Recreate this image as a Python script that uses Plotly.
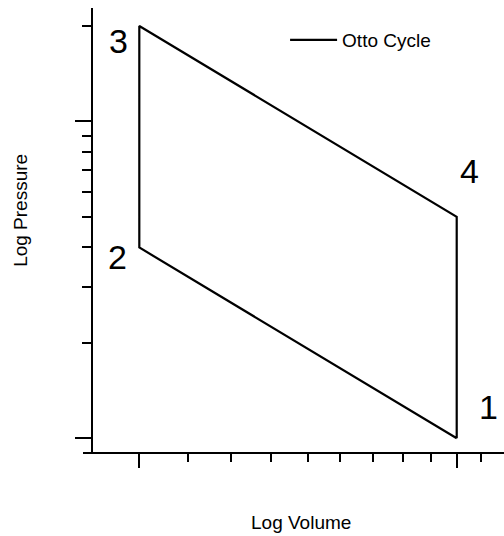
import numpy as np
import plotly.graph_objects as go

# Otto cycle state points (closed loop 1 -> 2 -> 3 -> 4 -> 1)
state_labels = ["1", "2", "3", "4"]
volume = [10, 1, 1, 10, 10]
pressure = [1, 4, 20, 5, 1]

# Axis tick positions (data units)
x_major_ticks = [1, 10]
x_minor_ticks = [1.42, 1.95, 2.6, 3.4, 4.3, 5.45, 6.75, 8.3, 11.9]
y_major_ticks = [1, 10]
y_minor_ticks = [2, 3, 4, 5, 6, 7, 8, 9, 20]

FONT = "Liberation Sans, Arial, sans-serif"

fig = go.Figure()
fig.add_trace(go.Scatter(
    x=volume, y=pressure, mode="lines", name="Otto Cycle",
    line=dict(color="black", width=2.2),
))

# State-point numbers, offset from each corner
label_shift = {"1": (32, 31), "2": (-22, -10), "3": (-21, -15), "4": (13, 46)}
for i, lab in enumerate(state_labels):
    dx, dy = label_shift[lab]
    fig.add_annotation(
        x=np.log10(volume[i]), y=np.log10(pressure[i]), xref="x", yref="y",
        text=lab, showarrow=False, xshift=dx, yshift=dy,
        xanchor="center", yanchor="middle",
        font=dict(family=FONT, size=34, color="black"),
    )

# Axis titles
fig.add_annotation(x=0.518, y=-0.158, xref="paper", yref="paper",
                   xanchor="center", yanchor="middle",
                   text="Log Volume", showarrow=False,
                   font=dict(family=FONT, size=19, color="black"))
fig.add_annotation(x=-0.150, y=0.545, xref="paper", yref="paper",
                   xanchor="center", yanchor="middle",
                   text="Log Pressure", showarrow=False, textangle=-90,
                   font=dict(family=FONT, size=19, color="black"))

fig.update_layout(
    width=504, height=536,
    margin=dict(l=83, r=0, t=8, b=84),
    paper_bgcolor="white", plot_bgcolor="white",
    font=dict(family=FONT, color="black"),
    showlegend=True,
    legend=dict(x=0.48, y=0.928, xanchor="left", yanchor="middle",
                bgcolor="rgba(0,0,0,0)", font=dict(family=FONT, size=19),
                itemwidth=47),
    xaxis=dict(
        type="log", range=[-0.1774, 1.149],
        showgrid=False, zeroline=False, showticklabels=False,
        showline=True, linecolor="black", linewidth=2,
        ticks="outside", ticklen=14, tickwidth=2, tickcolor="black",
        tickmode="array", tickvals=x_major_ticks,
        minor=dict(tickmode="array", tickvals=x_minor_ticks, ticks="outside",
                   ticklen=8, tickwidth=2, tickcolor="black", showgrid=False),
    ),
    yaxis=dict(
        type="log", range=[-0.0433, 1.3578],
        anchor="free", position=9 / 421,
        showgrid=False, zeroline=False, showticklabels=False,
        showline=True, linecolor="black", linewidth=2,
        ticks="outside", ticklen=16, tickwidth=2, tickcolor="black",
        tickmode="array", tickvals=y_major_ticks,
        minor=dict(tickmode="array", tickvals=y_minor_ticks, ticks="outside",
                   ticklen=9, tickwidth=2, tickcolor="black", showgrid=False),
    ),
)

fig.write_html("out.html")
